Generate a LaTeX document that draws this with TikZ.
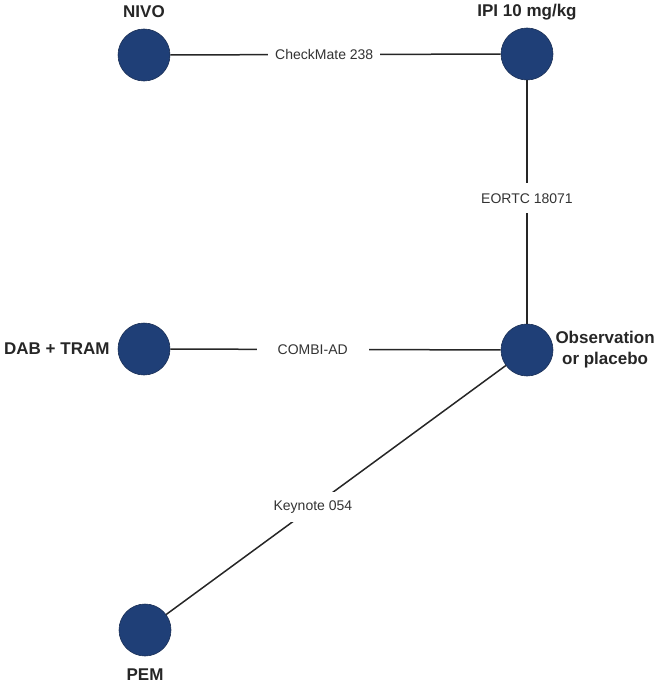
\documentclass[tikz,border=0pt]{standalone}
\usepackage{fontspec}
\setmainfont{Liberation Sans}
\usepackage{xcolor}
\usetikzlibrary{positioning}
\definecolor{armblue}{HTML}{1F3F77}
\definecolor{armedge}{HTML}{1A2F55}
\definecolor{trialgray}{HTML}{333333}

\begin{document}
\begin{tikzpicture}[
    x=1pt, y=-1pt,
    arm/.style={circle, fill=armblue, draw=armedge, line width=0.6pt, minimum size=52pt, inner sep=0pt},
    armlabel/.style={font=\fontsize{17}{21}\selectfont\bfseries, text=black!85, inner sep=0pt, align=center},
    trial/.style={fill=white, font=\fontsize{14}{16}\selectfont, text=trialgray, inner sep=2pt, minimum width=112pt, minimum height=30pt},
    link/.style={draw=black!85, line width=1.5pt}
]
\useasboundingbox (0,0) rectangle (658,685);

% Nodes
\node[arm] (nivo) at (144,55) {};
\node[arm] (ipi) at (527,54) {};
\node[arm] (dab) at (144,349) {};
\node[arm] (obs) at (527,350) {};
\node[arm] (pem) at (145,630) {};

\node[armlabel, above=11pt of nivo] (nivolab) {NIVO};
\node[armlabel, above=11pt of ipi, text depth=0pt] (ipilab) {IPI 10 mg/kg};
\node[armlabel, left=8pt of dab] (dablab) {DAB + TRAM};
\node[armlabel, right=2pt of obs] (obslab) {Observation\\or placebo};
\node[armlabel, below=12pt of pem] (pemlab) {PEM};

% Connections
\path[link] (nivo) -- node[trial, pos=0.466] {CheckMate 238} (ipi);
\path[link] (ipi) -- node[trial, pos=0.485] {EORTC 18071} (obs);
\path[link] (dab) -- node[trial, pos=0.431] {COMBI-AD} (obs);
\path[link] (obs) -- node[trial, pos=0.568] {Keynote 054} (pem);

\end{tikzpicture}
\end{document}
